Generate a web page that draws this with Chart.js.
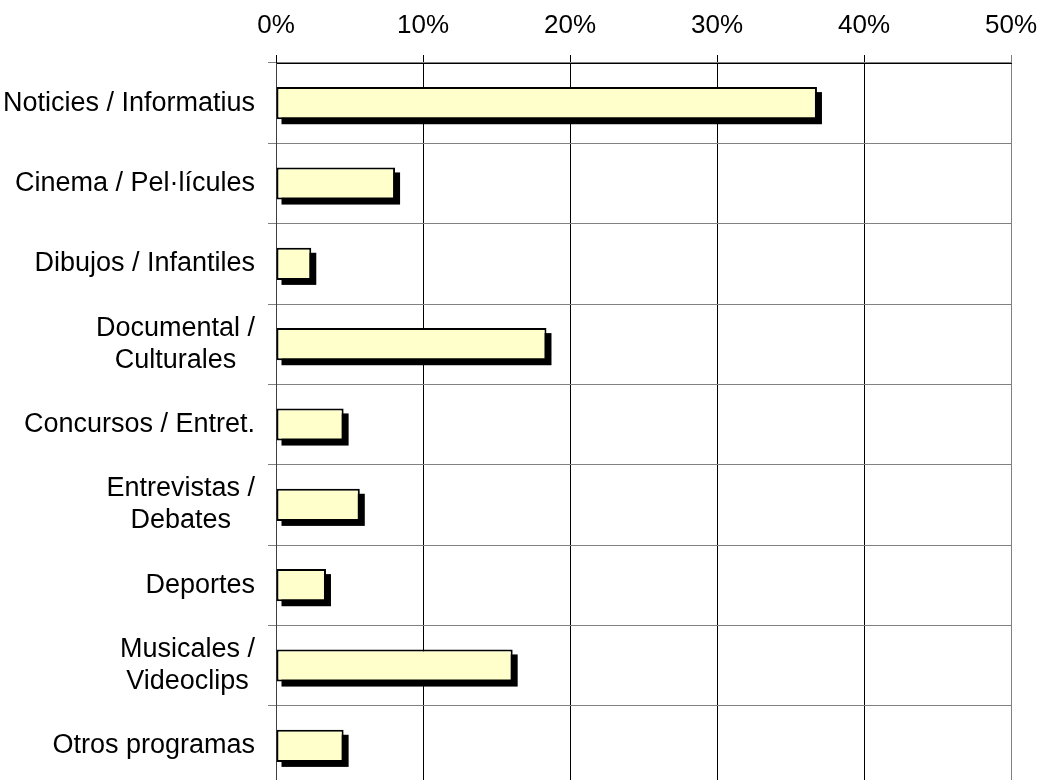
<!DOCTYPE html>
<html>
<head>
<meta charset="utf-8">
<script src="https://cdn.jsdelivr.net/npm/chart.js@4/dist/chart.umd.min.js"></script>
<style>
  html, body { margin: 0; padding: 0; background: #fff; overflow: hidden; }
  #wrap { width: 1040px; height: 790px; }
</style>
</head>
<body>
<div id="wrap"><canvas id="chart"></canvas></div>
<script>
// category names, split where the original wraps them
const categories = [
  ["Noticies / Informatius"],
  ["Cinema / Pel·lícules"],
  ["Dibujos / Infantiles"],
  ["Documental /", "Culturales"],
  ["Concursos / Entret."],
  ["Entrevistas /", "Debates"],
  ["Deportes"],
  ["Musicales /", "Videoclips"],
  ["Otros programas"],
];
// share of answers, in %
const shares = [36.8, 8.1, 2.4, 18.4, 4.6, 5.7, 3.4, 16.1, 4.6];
const axisMax = 50;
const axisStep = 10;

const FONT = '"Liberation Sans", Arial, sans-serif';

// black drop shadow behind each bar, offset down-right
const barShadow = {
  id: "barShadow",
  beforeDatasetsDraw(chart) {
    const ctx = chart.ctx;
    ctx.save();
    ctx.fillStyle = "#000";
    chart.getDatasetMeta(0).data.forEach((bar) => {
      const left = Math.min(bar.base, bar.x);
      const w = Math.abs(bar.x - bar.base);
      ctx.fillRect(left + 5, bar.y - bar.height / 2 + 5, w, bar.height);
    });
    ctx.restore();
  },
};

// category labels: block right-aligned, lines centred inside the block
const catLabels = {
  id: "catLabels",
  afterDraw(chart) {
    const ctx = chart.ctx;
    const yScale = chart.scales.y;
    const right = 255;
    const lh = 32;
    ctx.save();
    ctx.font = "27px " + FONT;
    ctx.fillStyle = "#000";
    ctx.textAlign = "center";
    ctx.textBaseline = "middle";
    categories.forEach((lines, i) => {
      const y = yScale.getPixelForValue(i);
      const w = Math.max(...lines.map((l) => ctx.measureText(l).width));
      const cx = right - w / 2;
      lines.forEach((l, j) => {
        ctx.fillText(l, cx, y + (j - (lines.length - 1) / 2) * lh);
      });
    });
    ctx.restore();
  },
};

new Chart(document.getElementById("chart"), {
  type: "bar",
  data: {
    labels: categories.map((c) => c.join(" ")),
    datasets: [
      {
        data: shares,
        backgroundColor: "#FFFFCC",
        borderColor: "#000",
        borderWidth: 2,
        borderSkipped: false,
        categoryPercentage: 1,
        barPercentage: 0.4,
      },
    ],
  },
  options: {
    indexAxis: "y",
    responsive: true,
    maintainAspectRatio: false,
    animation: false,
    layout: { padding: { left: 0, right: 29, top: 0, bottom: 4 } },
    plugins: {
      legend: { display: false },
      tooltip: { enabled: false },
    },
    scales: {
      x: {
        position: "top",
        min: 0,
        max: axisMax,
        ticks: {
          stepSize: axisStep,
          color: "#000",
          padding: 0,
          font: { family: FONT, size: 26, lineHeight: "58px" },
          callback: (v) => v + "%",
        },
        grid: {
          color: (c) => (c.tick && c.tick.value === axisMax ? "#808080" : "#000"),
          lineWidth: 1,
          tickLength: 8,
        },
        border: { display: true, color: "#000", width: 1 },
        afterFit: (s) => { s.height = 63; },
      },
      y: {
        ticks: { display: false },
        grid: {
          offset: true,
          color: "#808080",
          lineWidth: 1,
          tickLength: 8,
        },
        border: { display: true, color: "#404040", width: 1 },
        afterFit: (s) => { s.width = 276; },
      },
    },
  },
  plugins: [barShadow, catLabels],
});
</script>
</body>
</html>
